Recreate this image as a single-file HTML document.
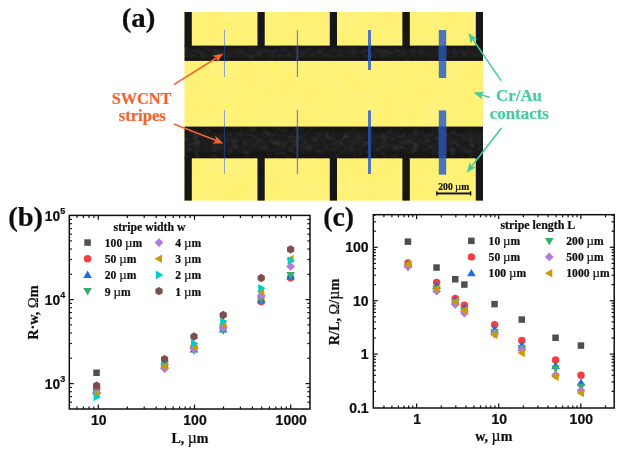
<!DOCTYPE html><html><head><meta charset="utf-8"><style>html,body{margin:0;padding:0;background:#fff;}svg{display:block}text{font-family:"Liberation Serif",serif;font-weight:bold;stroke-width:0.22px;stroke:#111}.o{stroke:#F4642F}.g{stroke:#48CAA0}.s{font-family:"Liberation Sans",sans-serif;font-weight:bold}</style></head><body>
<svg width="631" height="453" viewBox="0 0 631 453">
<defs><filter id="bl" x="-5%" y="-5%" width="110%" height="110%"><feGaussianBlur stdDeviation="0.55"/></filter><filter id="noise" x="0" y="0" width="100%" height="100%"><feTurbulence type="fractalNoise" baseFrequency="0.16 0.22" numOctaves="3" seed="7" result="n"/><feColorMatrix in="n" type="matrix" values="0 0 0 0 1  0 0 0 0 1  0 0 0 0 1  1.6 1.6 0 0 -1.55"/><feComposite in2="SourceGraphic" operator="in"/></filter><filter id="ynoise" x="0" y="0" width="100%" height="100%"><feTurbulence type="fractalNoise" baseFrequency="0.05" numOctaves="2" seed="11" result="n"/><feColorMatrix in="n" type="matrix" values="0 0 0 0 1  0 0 0 0 1  0 0 0 0 0.75  1.2 1.2 0 0 -1.0"/><feComposite in2="SourceGraphic" operator="in"/></filter><linearGradient id="bg1" x1="0" y1="0" x2="0" y2="1"><stop offset="0" stop-color="#101010"/><stop offset="0.3" stop-color="#1f1f1f"/><stop offset="0.7" stop-color="#1f1f1f"/><stop offset="1" stop-color="#101010"/></linearGradient></defs>
<rect width="631" height="453" fill="#fff"/>
<g filter="url(#bl)">
<rect x="184.5" y="12" width="298.5" height="188.6" fill="#FFF172"/>
<rect x="184.5" y="12" width="298.5" height="188.6" fill="#fff" opacity="0.16" filter="url(#ynoise)"/>
<rect x="184.5" y="45.6" width="298.5" height="15.299999999999997" fill="url(#bg1)"/>
<rect x="184.5" y="126.6" width="298.5" height="31.700000000000017" fill="url(#bg1)"/>
<rect x="184.5" y="12" width="7.300000000000011" height="34.6" fill="#131313"/>
<rect x="184.5" y="157.3" width="7.300000000000011" height="43.29999999999998" fill="#131313"/>
<rect x="257.5" y="12" width="7.199999999999989" height="34.6" fill="#131313"/>
<rect x="257.5" y="157.3" width="7.199999999999989" height="43.29999999999998" fill="#131313"/>
<rect x="329.8" y="12" width="7.199999999999989" height="34.6" fill="#131313"/>
<rect x="329.8" y="157.3" width="7.199999999999989" height="43.29999999999998" fill="#131313"/>
<rect x="402.4" y="12" width="7.400000000000034" height="34.6" fill="#131313"/>
<rect x="402.4" y="157.3" width="7.400000000000034" height="43.29999999999998" fill="#131313"/>
<rect x="475.8" y="12" width="7.199999999999989" height="34.6" fill="#131313"/>
<rect x="475.8" y="157.3" width="7.199999999999989" height="43.29999999999998" fill="#131313"/>
<rect x="184.5" y="126.6" width="298.5" height="31.700000000000017" fill="#fff" opacity="0.09" filter="url(#noise)"/>
<rect x="184.5" y="45.6" width="298.5" height="15.299999999999997" fill="#fff" opacity="0.06" filter="url(#noise)"/>
<rect x="224.0" y="30" width="1.0" height="47" fill="#8FA6C8"/>
<rect x="224.0" y="45.6" width="1.0" height="15.299999999999997" fill="#22386A"/>
<rect x="224.0" y="110" width="1.0" height="64" fill="#8FA6C8"/>
<rect x="224.0" y="126.6" width="1.0" height="31.700000000000017" fill="#22386A"/>
<rect x="296.8" y="30" width="1.3" height="47" fill="#6E8FC6"/>
<rect x="296.8" y="45.6" width="1.3" height="15.299999999999997" fill="#24427E"/>
<rect x="296.8" y="110" width="1.3" height="64" fill="#6E8FC6"/>
<rect x="296.8" y="126.6" width="1.3" height="31.700000000000017" fill="#24427E"/>
<rect x="368.0" y="30" width="3.0" height="40" fill="#4F78BE"/>
<rect x="368.0" y="45.6" width="3.0" height="15.299999999999997" fill="#264A96"/>
<rect x="368.0" y="110.4" width="3.0" height="63.599999999999994" fill="#4F78BE"/>
<rect x="368.0" y="126.6" width="3.0" height="31.700000000000017" fill="#264A96"/>
<rect x="438.8" y="30" width="7.4" height="48" fill="#4E76BA"/>
<rect x="438.8" y="45.6" width="7.4" height="15.299999999999997" fill="#26499A"/>
<rect x="438.8" y="110.4" width="7.4" height="64.19999999999999" fill="#4E76BA"/>
<rect x="438.8" y="126.6" width="7.4" height="31.700000000000017" fill="#26499A"/>
<rect x="436.2" y="192.5" width="35" height="1.9" fill="#111"/>
<rect x="436.2" y="191.2" width="1.3" height="4.4" fill="#111"/><rect x="469.9" y="191.2" width="1.3" height="4.4" fill="#111"/>
<text x="453.8" y="189.8" font-size="9.6" text-anchor="middle" fill="#111">200 <tspan font-weight="normal" font-size="1.12em">µ</tspan>m</text>
<text transform="translate(138.5,27.3) scale(1.098,1)" font-size="26.3" text-anchor="middle" fill="#111">(a)</text>
<text x="141.6" y="103.5" font-size="16.3" text-anchor="middle" class="o" fill="#F4642F">SWCNT</text>
<text x="142.2" y="121.4" font-size="16.6" text-anchor="middle" class="o" fill="#F4642F">stripes</text>
<text x="519.0" y="100.8" font-size="16.9" text-anchor="middle" class="g" fill="#48CAA0">Cr/Au</text>
<text x="519.3" y="118.9" font-size="16.9" text-anchor="middle" class="g" fill="#48CAA0">contacts</text>
<line x1="173.8" y1="84.6" x2="216.8" y2="57.8" stroke="#F4642F" stroke-width="1.6"/>
<polygon points="223.5,53.6 216.8,62.6 216.8,57.8 212.4,55.7" fill="#F4642F"/>
<line x1="173.8" y1="124.0" x2="216.2" y2="140.6" stroke="#F4642F" stroke-width="1.6"/>
<polygon points="223.5,143.5 212.2,143.5 216.2,140.6 215.2,135.8" fill="#F4642F"/>
<line x1="501.1" y1="80.6" x2="472.9" y2="39.4" stroke="#48CAA0" stroke-width="1.6"/>
<polygon points="468.5,32.9 477.8,39.3 472.9,39.4 471.0,43.9" fill="#48CAA0"/>
<line x1="489.8" y1="97.5" x2="481.0" y2="94.8" stroke="#48CAA0" stroke-width="1.6"/>
<polygon points="473.5,92.5 484.7,91.7 481.0,94.8 482.3,99.5" fill="#48CAA0"/>
<line x1="501.7" y1="127.7" x2="471.5" y2="166.5" stroke="#48CAA0" stroke-width="1.6"/>
<polygon points="466.7,172.7 469.9,161.9 471.5,166.5 476.4,166.9" fill="#48CAA0"/>
<rect x="69.3" y="215.4" width="240.7" height="193.6" fill="none" stroke="#111" stroke-width="1.5"/>
<line x1="77.0" y1="409.0" x2="77.0" y2="406.4" stroke="#111" stroke-width="1.2"/>
<line x1="77.0" y1="215.4" x2="77.0" y2="218.0" stroke="#111" stroke-width="1.2"/>
<line x1="83.4" y1="409.0" x2="83.4" y2="406.4" stroke="#111" stroke-width="1.2"/>
<line x1="83.4" y1="215.4" x2="83.4" y2="218.0" stroke="#111" stroke-width="1.2"/>
<line x1="89.0" y1="409.0" x2="89.0" y2="406.4" stroke="#111" stroke-width="1.2"/>
<line x1="89.0" y1="215.4" x2="89.0" y2="218.0" stroke="#111" stroke-width="1.2"/>
<line x1="93.9" y1="409.0" x2="93.9" y2="406.4" stroke="#111" stroke-width="1.2"/>
<line x1="93.9" y1="215.4" x2="93.9" y2="218.0" stroke="#111" stroke-width="1.2"/>
<line x1="98.3" y1="409.0" x2="98.3" y2="404.6" stroke="#111" stroke-width="1.2"/>
<line x1="98.3" y1="215.4" x2="98.3" y2="219.8" stroke="#111" stroke-width="1.2"/>
<line x1="127.3" y1="409.0" x2="127.3" y2="406.4" stroke="#111" stroke-width="1.2"/>
<line x1="127.3" y1="215.4" x2="127.3" y2="218.0" stroke="#111" stroke-width="1.2"/>
<line x1="144.2" y1="409.0" x2="144.2" y2="406.4" stroke="#111" stroke-width="1.2"/>
<line x1="144.2" y1="215.4" x2="144.2" y2="218.0" stroke="#111" stroke-width="1.2"/>
<line x1="156.2" y1="409.0" x2="156.2" y2="406.4" stroke="#111" stroke-width="1.2"/>
<line x1="156.2" y1="215.4" x2="156.2" y2="218.0" stroke="#111" stroke-width="1.2"/>
<line x1="165.5" y1="409.0" x2="165.5" y2="406.4" stroke="#111" stroke-width="1.2"/>
<line x1="165.5" y1="215.4" x2="165.5" y2="218.0" stroke="#111" stroke-width="1.2"/>
<line x1="173.2" y1="409.0" x2="173.2" y2="406.4" stroke="#111" stroke-width="1.2"/>
<line x1="173.2" y1="215.4" x2="173.2" y2="218.0" stroke="#111" stroke-width="1.2"/>
<line x1="179.6" y1="409.0" x2="179.6" y2="406.4" stroke="#111" stroke-width="1.2"/>
<line x1="179.6" y1="215.4" x2="179.6" y2="218.0" stroke="#111" stroke-width="1.2"/>
<line x1="185.2" y1="409.0" x2="185.2" y2="406.4" stroke="#111" stroke-width="1.2"/>
<line x1="185.2" y1="215.4" x2="185.2" y2="218.0" stroke="#111" stroke-width="1.2"/>
<line x1="190.1" y1="409.0" x2="190.1" y2="406.4" stroke="#111" stroke-width="1.2"/>
<line x1="190.1" y1="215.4" x2="190.1" y2="218.0" stroke="#111" stroke-width="1.2"/>
<line x1="194.5" y1="409.0" x2="194.5" y2="404.6" stroke="#111" stroke-width="1.2"/>
<line x1="194.5" y1="215.4" x2="194.5" y2="219.8" stroke="#111" stroke-width="1.2"/>
<line x1="223.5" y1="409.0" x2="223.5" y2="406.4" stroke="#111" stroke-width="1.2"/>
<line x1="223.5" y1="215.4" x2="223.5" y2="218.0" stroke="#111" stroke-width="1.2"/>
<line x1="240.4" y1="409.0" x2="240.4" y2="406.4" stroke="#111" stroke-width="1.2"/>
<line x1="240.4" y1="215.4" x2="240.4" y2="218.0" stroke="#111" stroke-width="1.2"/>
<line x1="252.4" y1="409.0" x2="252.4" y2="406.4" stroke="#111" stroke-width="1.2"/>
<line x1="252.4" y1="215.4" x2="252.4" y2="218.0" stroke="#111" stroke-width="1.2"/>
<line x1="261.7" y1="409.0" x2="261.7" y2="406.4" stroke="#111" stroke-width="1.2"/>
<line x1="261.7" y1="215.4" x2="261.7" y2="218.0" stroke="#111" stroke-width="1.2"/>
<line x1="269.4" y1="409.0" x2="269.4" y2="406.4" stroke="#111" stroke-width="1.2"/>
<line x1="269.4" y1="215.4" x2="269.4" y2="218.0" stroke="#111" stroke-width="1.2"/>
<line x1="275.8" y1="409.0" x2="275.8" y2="406.4" stroke="#111" stroke-width="1.2"/>
<line x1="275.8" y1="215.4" x2="275.8" y2="218.0" stroke="#111" stroke-width="1.2"/>
<line x1="281.4" y1="409.0" x2="281.4" y2="406.4" stroke="#111" stroke-width="1.2"/>
<line x1="281.4" y1="215.4" x2="281.4" y2="218.0" stroke="#111" stroke-width="1.2"/>
<line x1="286.3" y1="409.0" x2="286.3" y2="406.4" stroke="#111" stroke-width="1.2"/>
<line x1="286.3" y1="215.4" x2="286.3" y2="218.0" stroke="#111" stroke-width="1.2"/>
<line x1="290.7" y1="409.0" x2="290.7" y2="404.6" stroke="#111" stroke-width="1.2"/>
<line x1="290.7" y1="215.4" x2="290.7" y2="219.8" stroke="#111" stroke-width="1.2"/>
<line x1="69.3" y1="402.2" x2="71.89999999999999" y2="402.2" stroke="#111" stroke-width="1.2"/>
<line x1="310.0" y1="402.2" x2="307.4" y2="402.2" stroke="#111" stroke-width="1.2"/>
<line x1="69.3" y1="396.6" x2="71.89999999999999" y2="396.6" stroke="#111" stroke-width="1.2"/>
<line x1="310.0" y1="396.6" x2="307.4" y2="396.6" stroke="#111" stroke-width="1.2"/>
<line x1="69.3" y1="391.7" x2="71.89999999999999" y2="391.7" stroke="#111" stroke-width="1.2"/>
<line x1="310.0" y1="391.7" x2="307.4" y2="391.7" stroke="#111" stroke-width="1.2"/>
<line x1="69.3" y1="387.4" x2="71.89999999999999" y2="387.4" stroke="#111" stroke-width="1.2"/>
<line x1="310.0" y1="387.4" x2="307.4" y2="387.4" stroke="#111" stroke-width="1.2"/>
<line x1="69.3" y1="383.6" x2="73.7" y2="383.6" stroke="#111" stroke-width="1.2"/>
<line x1="310.0" y1="383.6" x2="305.6" y2="383.6" stroke="#111" stroke-width="1.2"/>
<line x1="69.3" y1="358.3" x2="71.89999999999999" y2="358.3" stroke="#111" stroke-width="1.2"/>
<line x1="310.0" y1="358.3" x2="307.4" y2="358.3" stroke="#111" stroke-width="1.2"/>
<line x1="69.3" y1="343.5" x2="71.89999999999999" y2="343.5" stroke="#111" stroke-width="1.2"/>
<line x1="310.0" y1="343.5" x2="307.4" y2="343.5" stroke="#111" stroke-width="1.2"/>
<line x1="69.3" y1="333.0" x2="71.89999999999999" y2="333.0" stroke="#111" stroke-width="1.2"/>
<line x1="310.0" y1="333.0" x2="307.4" y2="333.0" stroke="#111" stroke-width="1.2"/>
<line x1="69.3" y1="324.9" x2="71.89999999999999" y2="324.9" stroke="#111" stroke-width="1.2"/>
<line x1="310.0" y1="324.9" x2="307.4" y2="324.9" stroke="#111" stroke-width="1.2"/>
<line x1="69.3" y1="318.2" x2="71.89999999999999" y2="318.2" stroke="#111" stroke-width="1.2"/>
<line x1="310.0" y1="318.2" x2="307.4" y2="318.2" stroke="#111" stroke-width="1.2"/>
<line x1="69.3" y1="312.6" x2="71.89999999999999" y2="312.6" stroke="#111" stroke-width="1.2"/>
<line x1="310.0" y1="312.6" x2="307.4" y2="312.6" stroke="#111" stroke-width="1.2"/>
<line x1="69.3" y1="307.7" x2="71.89999999999999" y2="307.7" stroke="#111" stroke-width="1.2"/>
<line x1="310.0" y1="307.7" x2="307.4" y2="307.7" stroke="#111" stroke-width="1.2"/>
<line x1="69.3" y1="303.4" x2="71.89999999999999" y2="303.4" stroke="#111" stroke-width="1.2"/>
<line x1="310.0" y1="303.4" x2="307.4" y2="303.4" stroke="#111" stroke-width="1.2"/>
<line x1="69.3" y1="299.6" x2="73.7" y2="299.6" stroke="#111" stroke-width="1.2"/>
<line x1="310.0" y1="299.6" x2="305.6" y2="299.6" stroke="#111" stroke-width="1.2"/>
<line x1="69.3" y1="274.3" x2="71.89999999999999" y2="274.3" stroke="#111" stroke-width="1.2"/>
<line x1="310.0" y1="274.3" x2="307.4" y2="274.3" stroke="#111" stroke-width="1.2"/>
<line x1="69.3" y1="259.5" x2="71.89999999999999" y2="259.5" stroke="#111" stroke-width="1.2"/>
<line x1="310.0" y1="259.5" x2="307.4" y2="259.5" stroke="#111" stroke-width="1.2"/>
<line x1="69.3" y1="249.0" x2="71.89999999999999" y2="249.0" stroke="#111" stroke-width="1.2"/>
<line x1="310.0" y1="249.0" x2="307.4" y2="249.0" stroke="#111" stroke-width="1.2"/>
<line x1="69.3" y1="240.9" x2="71.89999999999999" y2="240.9" stroke="#111" stroke-width="1.2"/>
<line x1="310.0" y1="240.9" x2="307.4" y2="240.9" stroke="#111" stroke-width="1.2"/>
<line x1="69.3" y1="234.2" x2="71.89999999999999" y2="234.2" stroke="#111" stroke-width="1.2"/>
<line x1="310.0" y1="234.2" x2="307.4" y2="234.2" stroke="#111" stroke-width="1.2"/>
<line x1="69.3" y1="228.6" x2="71.89999999999999" y2="228.6" stroke="#111" stroke-width="1.2"/>
<line x1="310.0" y1="228.6" x2="307.4" y2="228.6" stroke="#111" stroke-width="1.2"/>
<line x1="69.3" y1="223.7" x2="71.89999999999999" y2="223.7" stroke="#111" stroke-width="1.2"/>
<line x1="310.0" y1="223.7" x2="307.4" y2="223.7" stroke="#111" stroke-width="1.2"/>
<line x1="69.3" y1="219.4" x2="71.89999999999999" y2="219.4" stroke="#111" stroke-width="1.2"/>
<line x1="310.0" y1="219.4" x2="307.4" y2="219.4" stroke="#111" stroke-width="1.2"/>
<text class="s" x="98.8" y="424.8" font-size="14" text-anchor="middle" fill="#111">10</text>
<text class="s" x="195.0" y="424.8" font-size="14" text-anchor="middle" fill="#111">100</text>
<text class="s" x="291.2" y="424.8" font-size="14" text-anchor="middle" fill="#111">1000</text>
<text class="s" x="60.2" y="388.7" font-size="13.8" text-anchor="end" fill="#111">10</text>
<text class="s" x="60.3" y="382.3" font-size="9" fill="#111">3</text>
<text class="s" x="60.2" y="304.7" font-size="13.8" text-anchor="end" fill="#111">10</text>
<text class="s" x="60.3" y="298.3" font-size="9" fill="#111">4</text>
<text class="s" x="60.2" y="220.7" font-size="13.8" text-anchor="end" fill="#111">10</text>
<text class="s" x="60.3" y="214.3" font-size="9" fill="#111">5</text>
<text x="190" y="443" font-size="14" text-anchor="middle" fill="#111">L, <tspan font-weight="normal" font-size="1.12em">µ</tspan>m</text>
<text transform="translate(37.5,312.6) rotate(-90)" font-size="14.3" text-anchor="middle" fill="#111">R·w, <tspan font-weight="normal">Ω</tspan>m</text>
<text transform="translate(25.65,226.1) scale(1.087,1)" font-size="26.3" text-anchor="middle" fill="#111">(b)</text>
<text x="113.6" y="230.8" font-size="11.75" fill="#111">stripe width w</text>
<rect x="84.3" y="239.3" width="6.5" height="6.5" fill="#505050"/>
<text x="104.8" y="247.1" font-size="11.6" fill="#111">100 <tspan font-weight="normal" font-size="1.12em">µ</tspan>m</text>
<circle cx="87.6" cy="258.8" r="3.72" fill="#F04040"/>
<text x="104.8" y="263.3" font-size="11.6" fill="#111">50 <tspan font-weight="normal" font-size="1.12em">µ</tspan>m</text>
<polygon points="87.6,270.5 91.9,277.9 83.3,277.9" fill="#1C6EE0"/>
<text x="104.8" y="279.4" font-size="11.6" fill="#111">20 <tspan font-weight="normal" font-size="1.12em">µ</tspan>m</text>
<polygon points="87.6,295.5 91.9,288.1 83.3,288.1" fill="#36AE6C"/>
<text x="104.8" y="295.6" font-size="11.6" fill="#111">9 <tspan font-weight="normal" font-size="1.12em">µ</tspan>m</text>
<polygon points="159.0,238.2 163.4,242.6 159.0,247.0 154.6,242.6" fill="#B47AE0"/>
<text x="175.3" y="247.1" font-size="11.6" fill="#111">4 <tspan font-weight="normal" font-size="1.12em">µ</tspan>m</text>
<polygon points="154.6,258.8 162.0,254.5 162.0,263.1" fill="#CE9A00"/>
<text x="175.3" y="263.3" font-size="11.6" fill="#111">3 <tspan font-weight="normal" font-size="1.12em">µ</tspan>m</text>
<polygon points="163.4,274.9 156.0,270.6 156.0,279.2" fill="#00CCCC"/>
<text x="175.3" y="279.4" font-size="11.6" fill="#111">2 <tspan font-weight="normal" font-size="1.12em">µ</tspan>m</text>
<polygon points="159.0,286.9 162.6,289.0 162.6,293.2 159.0,295.3 155.4,293.2 155.4,289.0" fill="#7E4E4E"/>
<text x="175.3" y="295.6" font-size="11.6" fill="#111">1 <tspan font-weight="normal" font-size="1.12em">µ</tspan>m</text>
<rect x="93.3" y="369.5" width="6.5" height="6.5" fill="#505050"/>
<circle cx="96.6" cy="388.5" r="3.72" fill="#F04040"/>
<polygon points="96.6,385.6 100.9,393.0 92.3,393.0" fill="#1C6EE0"/>
<polygon points="96.6,396.4 100.9,389.0 92.3,389.0" fill="#36AE6C"/>
<polygon points="96.6,389.1 101.0,393.5 96.6,397.9 92.2,393.5" fill="#B47AE0"/>
<polygon points="92.2,394.0 99.6,389.7 99.6,398.3" fill="#CE9A00"/>
<polygon points="101.0,397.0 93.6,392.7 93.6,401.3" fill="#00CCCC"/>
<polygon points="96.6,381.4 100.2,383.5 100.2,387.7 96.6,389.8 93.0,387.7 93.0,383.5" fill="#7E4E4E"/>
<circle cx="164.6" cy="365.0" r="3.72" fill="#F04040"/>
<polygon points="164.6,361.1 168.9,368.5 160.3,368.5" fill="#1C6EE0"/>
<polygon points="164.6,370.9 168.9,363.5 160.3,363.5" fill="#36AE6C"/>
<polygon points="164.6,364.1 169.0,368.5 164.6,372.9 160.2,368.5" fill="#B47AE0"/>
<polygon points="160.2,366.2 167.6,361.9 167.6,370.5" fill="#CE9A00"/>
<polygon points="169.0,361.5 161.6,357.2 161.6,365.8" fill="#00CCCC"/>
<polygon points="164.6,354.9 168.2,357.0 168.2,361.2 164.6,363.3 161.0,361.2 161.0,357.0" fill="#7E4E4E"/>
<circle cx="194.0" cy="347.0" r="3.72" fill="#F04040"/>
<polygon points="194.0,345.1 198.3,352.5 189.7,352.5" fill="#1C6EE0"/>
<polygon points="194.0,354.9 198.3,347.5 189.7,347.5" fill="#36AE6C"/>
<polygon points="194.0,344.4 198.4,348.8 194.0,353.2 189.6,348.8" fill="#B47AE0"/>
<polygon points="189.6,346.2 197.0,341.9 197.0,350.5" fill="#CE9A00"/>
<polygon points="198.4,343.4 191.0,339.1 191.0,347.7" fill="#00CCCC"/>
<polygon points="194.0,332.3 197.6,334.4 197.6,338.6 194.0,340.7 190.4,338.6 190.4,334.4" fill="#7E4E4E"/>
<circle cx="223.2" cy="327.0" r="3.72" fill="#F04040"/>
<polygon points="223.2,325.1 227.5,332.5 218.9,332.5" fill="#1C6EE0"/>
<polygon points="223.2,335.0 227.5,327.6 218.9,327.6" fill="#36AE6C"/>
<polygon points="223.2,323.1 227.6,327.5 223.2,331.9 218.8,327.5" fill="#B47AE0"/>
<polygon points="218.8,324.0 226.2,319.7 226.2,328.3" fill="#CE9A00"/>
<polygon points="227.6,321.3 220.2,317.0 220.2,325.6" fill="#00CCCC"/>
<polygon points="223.2,310.8 226.8,312.9 226.8,317.1 223.2,319.2 219.6,317.1 219.6,312.9" fill="#7E4E4E"/>
<circle cx="261.2" cy="301.6" r="3.72" fill="#F04040"/>
<polygon points="261.2,295.9 265.5,303.3 256.9,303.3" fill="#1C6EE0"/>
<polygon points="261.2,303.9 265.5,296.5 256.9,296.5" fill="#36AE6C"/>
<polygon points="261.2,291.0 265.6,295.4 261.2,299.8 256.8,295.4" fill="#B47AE0"/>
<polygon points="256.8,291.5 264.2,287.2 264.2,295.8" fill="#CE9A00"/>
<polygon points="265.6,288.2 258.2,283.9 258.2,292.5" fill="#00CCCC"/>
<polygon points="261.2,273.8 264.8,275.9 264.8,280.1 261.2,282.2 257.6,280.1 257.6,275.9" fill="#7E4E4E"/>
<circle cx="290.6" cy="277.8" r="3.72" fill="#F04040"/>
<polygon points="290.6,272.0 294.9,279.4 286.3,279.4" fill="#1C6EE0"/>
<polygon points="290.6,279.3 294.9,271.9 286.3,271.9" fill="#36AE6C"/>
<polygon points="290.6,262.0 295.0,266.4 290.6,270.8 286.2,266.4" fill="#B47AE0"/>
<polygon points="286.2,259.0 293.6,254.7 293.6,263.3" fill="#CE9A00"/>
<polygon points="295.0,260.5 287.6,256.2 287.6,264.8" fill="#00CCCC"/>
<polygon points="290.6,245.2 294.2,247.3 294.2,251.5 290.6,253.6 287.0,251.5 287.0,247.3" fill="#7E4E4E"/>
<rect x="373.3" y="214.7" width="240.90000000000003" height="193.3" fill="none" stroke="#111" stroke-width="1.5"/>
<line x1="383.9" y1="408.0" x2="383.9" y2="405.4" stroke="#111" stroke-width="1.2"/>
<line x1="383.9" y1="214.7" x2="383.9" y2="217.29999999999998" stroke="#111" stroke-width="1.2"/>
<line x1="391.9" y1="408.0" x2="391.9" y2="405.4" stroke="#111" stroke-width="1.2"/>
<line x1="391.9" y1="214.7" x2="391.9" y2="217.29999999999998" stroke="#111" stroke-width="1.2"/>
<line x1="398.4" y1="408.0" x2="398.4" y2="405.4" stroke="#111" stroke-width="1.2"/>
<line x1="398.4" y1="214.7" x2="398.4" y2="217.29999999999998" stroke="#111" stroke-width="1.2"/>
<line x1="403.9" y1="408.0" x2="403.9" y2="405.4" stroke="#111" stroke-width="1.2"/>
<line x1="403.9" y1="214.7" x2="403.9" y2="217.29999999999998" stroke="#111" stroke-width="1.2"/>
<line x1="408.6" y1="408.0" x2="408.6" y2="405.4" stroke="#111" stroke-width="1.2"/>
<line x1="408.6" y1="214.7" x2="408.6" y2="217.29999999999998" stroke="#111" stroke-width="1.2"/>
<line x1="412.8" y1="408.0" x2="412.8" y2="405.4" stroke="#111" stroke-width="1.2"/>
<line x1="412.8" y1="214.7" x2="412.8" y2="217.29999999999998" stroke="#111" stroke-width="1.2"/>
<line x1="416.6" y1="408.0" x2="416.6" y2="403.6" stroke="#111" stroke-width="1.2"/>
<line x1="416.6" y1="214.7" x2="416.6" y2="219.1" stroke="#111" stroke-width="1.2"/>
<line x1="441.3" y1="408.0" x2="441.3" y2="405.4" stroke="#111" stroke-width="1.2"/>
<line x1="441.3" y1="214.7" x2="441.3" y2="217.29999999999998" stroke="#111" stroke-width="1.2"/>
<line x1="455.8" y1="408.0" x2="455.8" y2="405.4" stroke="#111" stroke-width="1.2"/>
<line x1="455.8" y1="214.7" x2="455.8" y2="217.29999999999998" stroke="#111" stroke-width="1.2"/>
<line x1="466.0" y1="408.0" x2="466.0" y2="405.4" stroke="#111" stroke-width="1.2"/>
<line x1="466.0" y1="214.7" x2="466.0" y2="217.29999999999998" stroke="#111" stroke-width="1.2"/>
<line x1="474.0" y1="408.0" x2="474.0" y2="405.4" stroke="#111" stroke-width="1.2"/>
<line x1="474.0" y1="214.7" x2="474.0" y2="217.29999999999998" stroke="#111" stroke-width="1.2"/>
<line x1="480.5" y1="408.0" x2="480.5" y2="405.4" stroke="#111" stroke-width="1.2"/>
<line x1="480.5" y1="214.7" x2="480.5" y2="217.29999999999998" stroke="#111" stroke-width="1.2"/>
<line x1="486.0" y1="408.0" x2="486.0" y2="405.4" stroke="#111" stroke-width="1.2"/>
<line x1="486.0" y1="214.7" x2="486.0" y2="217.29999999999998" stroke="#111" stroke-width="1.2"/>
<line x1="490.7" y1="408.0" x2="490.7" y2="405.4" stroke="#111" stroke-width="1.2"/>
<line x1="490.7" y1="214.7" x2="490.7" y2="217.29999999999998" stroke="#111" stroke-width="1.2"/>
<line x1="494.9" y1="408.0" x2="494.9" y2="405.4" stroke="#111" stroke-width="1.2"/>
<line x1="494.9" y1="214.7" x2="494.9" y2="217.29999999999998" stroke="#111" stroke-width="1.2"/>
<line x1="498.7" y1="408.0" x2="498.7" y2="403.6" stroke="#111" stroke-width="1.2"/>
<line x1="498.7" y1="214.7" x2="498.7" y2="219.1" stroke="#111" stroke-width="1.2"/>
<line x1="523.4" y1="408.0" x2="523.4" y2="405.4" stroke="#111" stroke-width="1.2"/>
<line x1="523.4" y1="214.7" x2="523.4" y2="217.29999999999998" stroke="#111" stroke-width="1.2"/>
<line x1="537.9" y1="408.0" x2="537.9" y2="405.4" stroke="#111" stroke-width="1.2"/>
<line x1="537.9" y1="214.7" x2="537.9" y2="217.29999999999998" stroke="#111" stroke-width="1.2"/>
<line x1="548.1" y1="408.0" x2="548.1" y2="405.4" stroke="#111" stroke-width="1.2"/>
<line x1="548.1" y1="214.7" x2="548.1" y2="217.29999999999998" stroke="#111" stroke-width="1.2"/>
<line x1="556.1" y1="408.0" x2="556.1" y2="405.4" stroke="#111" stroke-width="1.2"/>
<line x1="556.1" y1="214.7" x2="556.1" y2="217.29999999999998" stroke="#111" stroke-width="1.2"/>
<line x1="562.6" y1="408.0" x2="562.6" y2="405.4" stroke="#111" stroke-width="1.2"/>
<line x1="562.6" y1="214.7" x2="562.6" y2="217.29999999999998" stroke="#111" stroke-width="1.2"/>
<line x1="568.1" y1="408.0" x2="568.1" y2="405.4" stroke="#111" stroke-width="1.2"/>
<line x1="568.1" y1="214.7" x2="568.1" y2="217.29999999999998" stroke="#111" stroke-width="1.2"/>
<line x1="572.8" y1="408.0" x2="572.8" y2="405.4" stroke="#111" stroke-width="1.2"/>
<line x1="572.8" y1="214.7" x2="572.8" y2="217.29999999999998" stroke="#111" stroke-width="1.2"/>
<line x1="577.0" y1="408.0" x2="577.0" y2="405.4" stroke="#111" stroke-width="1.2"/>
<line x1="577.0" y1="214.7" x2="577.0" y2="217.29999999999998" stroke="#111" stroke-width="1.2"/>
<line x1="580.8" y1="408.0" x2="580.8" y2="403.6" stroke="#111" stroke-width="1.2"/>
<line x1="580.8" y1="214.7" x2="580.8" y2="219.1" stroke="#111" stroke-width="1.2"/>
<line x1="605.5" y1="408.0" x2="605.5" y2="405.4" stroke="#111" stroke-width="1.2"/>
<line x1="605.5" y1="214.7" x2="605.5" y2="217.29999999999998" stroke="#111" stroke-width="1.2"/>
<line x1="373.3" y1="391.4" x2="375.90000000000003" y2="391.4" stroke="#111" stroke-width="1.2"/>
<line x1="614.2" y1="391.4" x2="611.6" y2="391.4" stroke="#111" stroke-width="1.2"/>
<line x1="373.3" y1="382.0" x2="375.90000000000003" y2="382.0" stroke="#111" stroke-width="1.2"/>
<line x1="614.2" y1="382.0" x2="611.6" y2="382.0" stroke="#111" stroke-width="1.2"/>
<line x1="373.3" y1="375.3" x2="375.90000000000003" y2="375.3" stroke="#111" stroke-width="1.2"/>
<line x1="614.2" y1="375.3" x2="611.6" y2="375.3" stroke="#111" stroke-width="1.2"/>
<line x1="373.3" y1="370.2" x2="375.90000000000003" y2="370.2" stroke="#111" stroke-width="1.2"/>
<line x1="614.2" y1="370.2" x2="611.6" y2="370.2" stroke="#111" stroke-width="1.2"/>
<line x1="373.3" y1="365.9" x2="375.90000000000003" y2="365.9" stroke="#111" stroke-width="1.2"/>
<line x1="614.2" y1="365.9" x2="611.6" y2="365.9" stroke="#111" stroke-width="1.2"/>
<line x1="373.3" y1="362.4" x2="375.90000000000003" y2="362.4" stroke="#111" stroke-width="1.2"/>
<line x1="614.2" y1="362.4" x2="611.6" y2="362.4" stroke="#111" stroke-width="1.2"/>
<line x1="373.3" y1="359.3" x2="375.90000000000003" y2="359.3" stroke="#111" stroke-width="1.2"/>
<line x1="614.2" y1="359.3" x2="611.6" y2="359.3" stroke="#111" stroke-width="1.2"/>
<line x1="373.3" y1="356.5" x2="375.90000000000003" y2="356.5" stroke="#111" stroke-width="1.2"/>
<line x1="614.2" y1="356.5" x2="611.6" y2="356.5" stroke="#111" stroke-width="1.2"/>
<line x1="373.3" y1="354.1" x2="377.7" y2="354.1" stroke="#111" stroke-width="1.2"/>
<line x1="614.2" y1="354.1" x2="609.8000000000001" y2="354.1" stroke="#111" stroke-width="1.2"/>
<line x1="373.3" y1="338.0" x2="375.90000000000003" y2="338.0" stroke="#111" stroke-width="1.2"/>
<line x1="614.2" y1="338.0" x2="611.6" y2="338.0" stroke="#111" stroke-width="1.2"/>
<line x1="373.3" y1="328.6" x2="375.90000000000003" y2="328.6" stroke="#111" stroke-width="1.2"/>
<line x1="614.2" y1="328.6" x2="611.6" y2="328.6" stroke="#111" stroke-width="1.2"/>
<line x1="373.3" y1="321.9" x2="375.90000000000003" y2="321.9" stroke="#111" stroke-width="1.2"/>
<line x1="614.2" y1="321.9" x2="611.6" y2="321.9" stroke="#111" stroke-width="1.2"/>
<line x1="373.3" y1="316.8" x2="375.90000000000003" y2="316.8" stroke="#111" stroke-width="1.2"/>
<line x1="614.2" y1="316.8" x2="611.6" y2="316.8" stroke="#111" stroke-width="1.2"/>
<line x1="373.3" y1="312.5" x2="375.90000000000003" y2="312.5" stroke="#111" stroke-width="1.2"/>
<line x1="614.2" y1="312.5" x2="611.6" y2="312.5" stroke="#111" stroke-width="1.2"/>
<line x1="373.3" y1="309.0" x2="375.90000000000003" y2="309.0" stroke="#111" stroke-width="1.2"/>
<line x1="614.2" y1="309.0" x2="611.6" y2="309.0" stroke="#111" stroke-width="1.2"/>
<line x1="373.3" y1="305.9" x2="375.90000000000003" y2="305.9" stroke="#111" stroke-width="1.2"/>
<line x1="614.2" y1="305.9" x2="611.6" y2="305.9" stroke="#111" stroke-width="1.2"/>
<line x1="373.3" y1="303.1" x2="375.90000000000003" y2="303.1" stroke="#111" stroke-width="1.2"/>
<line x1="614.2" y1="303.1" x2="611.6" y2="303.1" stroke="#111" stroke-width="1.2"/>
<line x1="373.3" y1="300.7" x2="377.7" y2="300.7" stroke="#111" stroke-width="1.2"/>
<line x1="614.2" y1="300.7" x2="609.8000000000001" y2="300.7" stroke="#111" stroke-width="1.2"/>
<line x1="373.3" y1="284.6" x2="375.90000000000003" y2="284.6" stroke="#111" stroke-width="1.2"/>
<line x1="614.2" y1="284.6" x2="611.6" y2="284.6" stroke="#111" stroke-width="1.2"/>
<line x1="373.3" y1="275.2" x2="375.90000000000003" y2="275.2" stroke="#111" stroke-width="1.2"/>
<line x1="614.2" y1="275.2" x2="611.6" y2="275.2" stroke="#111" stroke-width="1.2"/>
<line x1="373.3" y1="268.5" x2="375.90000000000003" y2="268.5" stroke="#111" stroke-width="1.2"/>
<line x1="614.2" y1="268.5" x2="611.6" y2="268.5" stroke="#111" stroke-width="1.2"/>
<line x1="373.3" y1="263.4" x2="375.90000000000003" y2="263.4" stroke="#111" stroke-width="1.2"/>
<line x1="614.2" y1="263.4" x2="611.6" y2="263.4" stroke="#111" stroke-width="1.2"/>
<line x1="373.3" y1="259.1" x2="375.90000000000003" y2="259.1" stroke="#111" stroke-width="1.2"/>
<line x1="614.2" y1="259.1" x2="611.6" y2="259.1" stroke="#111" stroke-width="1.2"/>
<line x1="373.3" y1="255.6" x2="375.90000000000003" y2="255.6" stroke="#111" stroke-width="1.2"/>
<line x1="614.2" y1="255.6" x2="611.6" y2="255.6" stroke="#111" stroke-width="1.2"/>
<line x1="373.3" y1="252.5" x2="375.90000000000003" y2="252.5" stroke="#111" stroke-width="1.2"/>
<line x1="614.2" y1="252.5" x2="611.6" y2="252.5" stroke="#111" stroke-width="1.2"/>
<line x1="373.3" y1="249.7" x2="375.90000000000003" y2="249.7" stroke="#111" stroke-width="1.2"/>
<line x1="614.2" y1="249.7" x2="611.6" y2="249.7" stroke="#111" stroke-width="1.2"/>
<line x1="373.3" y1="247.3" x2="377.7" y2="247.3" stroke="#111" stroke-width="1.2"/>
<line x1="614.2" y1="247.3" x2="609.8000000000001" y2="247.3" stroke="#111" stroke-width="1.2"/>
<line x1="373.3" y1="231.2" x2="375.90000000000003" y2="231.2" stroke="#111" stroke-width="1.2"/>
<line x1="614.2" y1="231.2" x2="611.6" y2="231.2" stroke="#111" stroke-width="1.2"/>
<line x1="373.3" y1="221.8" x2="375.90000000000003" y2="221.8" stroke="#111" stroke-width="1.2"/>
<line x1="614.2" y1="221.8" x2="611.6" y2="221.8" stroke="#111" stroke-width="1.2"/>
<line x1="373.3" y1="215.1" x2="375.90000000000003" y2="215.1" stroke="#111" stroke-width="1.2"/>
<line x1="614.2" y1="215.1" x2="611.6" y2="215.1" stroke="#111" stroke-width="1.2"/>
<text class="s" x="417.1" y="424.1" font-size="14" text-anchor="middle" fill="#111">1</text>
<text class="s" x="499.2" y="424.1" font-size="14" text-anchor="middle" fill="#111">10</text>
<text class="s" x="581.3" y="424.1" font-size="14" text-anchor="middle" fill="#111">100</text>
<text class="s" x="368.6" y="412.5" font-size="14" text-anchor="end" fill="#111">0.1</text>
<text class="s" x="368.6" y="359.1" font-size="14" text-anchor="end" fill="#111">1</text>
<text class="s" x="368.6" y="305.7" font-size="14" text-anchor="end" fill="#111">10</text>
<text class="s" x="368.6" y="252.3" font-size="14" text-anchor="end" fill="#111">100</text>
<text x="493.8" y="440.5" font-size="14" text-anchor="middle" fill="#111">w, <tspan font-weight="normal" font-size="1.12em">µ</tspan>m</text>
<text transform="translate(338.9,312) rotate(-90)" font-size="14.3" text-anchor="middle" fill="#111">R/L, <tspan font-weight="normal">Ω</tspan>/<tspan font-weight="normal" font-size="1.12em">µ</tspan>m</text>
<text transform="translate(338.6,226) scale(1.06,1)" font-size="26.3" text-anchor="middle" fill="#111">(c)</text>
<text x="500.4" y="228.8" font-size="11.95" fill="#111">stripe length L</text>
<rect x="468.1" y="237.6" width="6.5" height="6.5" fill="#505050"/>
<text x="488.6" y="244.5" font-size="11.6" fill="#111">10 <tspan font-weight="normal" font-size="1.12em">µ</tspan>m</text>
<circle cx="471.4" cy="256.9" r="3.72" fill="#F04040"/>
<text x="488.6" y="260.5" font-size="11.6" fill="#111">50 <tspan font-weight="normal" font-size="1.12em">µ</tspan>m</text>
<polygon points="471.4,268.9 475.7,276.3 467.1,276.3" fill="#1C6EE0"/>
<text x="488.6" y="276.9" font-size="11.6" fill="#111">100 <tspan font-weight="normal" font-size="1.12em">µ</tspan>m</text>
<polygon points="549.3,245.3 553.6,237.9 545.0,237.9" fill="#36AE6C"/>
<text x="566.3" y="244.5" font-size="11.6" fill="#111">200 <tspan font-weight="normal" font-size="1.12em">µ</tspan>m</text>
<polygon points="549.3,252.5 553.7,256.9 549.3,261.3 544.9,256.9" fill="#B47AE0"/>
<text x="566.3" y="260.5" font-size="11.6" fill="#111">500 <tspan font-weight="normal" font-size="1.12em">µ</tspan>m</text>
<polygon points="544.9,273.3 552.3,269.0 552.3,277.6" fill="#CE9A00"/>
<text x="566.3" y="276.9" font-size="11.6" fill="#111">1000 <tspan font-weight="normal" font-size="1.12em">µ</tspan>m</text>
<rect x="404.7" y="238.4" width="6.5" height="6.5" fill="#505050"/>
<circle cx="408.0" cy="262.9" r="3.72" fill="#F04040"/>
<polygon points="408.0,260.1 412.3,267.5 403.7,267.5" fill="#1C6EE0"/>
<polygon points="408.0,271.4 412.3,264.0 403.7,264.0" fill="#36AE6C"/>
<polygon points="408.0,262.1 412.4,266.5 408.0,270.9 403.6,266.5" fill="#B47AE0"/>
<polygon points="403.6,264.0 411.0,259.7 411.0,268.3" fill="#CE9A00"/>
<rect x="433.3" y="264.3" width="6.5" height="6.5" fill="#505050"/>
<circle cx="436.6" cy="282.4" r="3.72" fill="#F04040"/>
<polygon points="436.6,281.6 440.9,289.0 432.3,289.0" fill="#1C6EE0"/>
<polygon points="436.6,293.4 440.9,286.0 432.3,286.0" fill="#36AE6C"/>
<polygon points="436.6,286.8 441.0,291.2 436.6,295.6 432.2,291.2" fill="#B47AE0"/>
<polygon points="432.2,289.0 439.6,284.7 439.6,293.3" fill="#CE9A00"/>
<rect x="452.0" y="276.0" width="6.5" height="6.5" fill="#505050"/>
<circle cx="455.3" cy="298.5" r="3.72" fill="#F04040"/>
<polygon points="455.3,296.1 459.6,303.5 451.0,303.5" fill="#1C6EE0"/>
<polygon points="455.3,306.4 459.6,299.0 451.0,299.0" fill="#36AE6C"/>
<polygon points="455.3,300.2 459.7,304.6 455.3,309.0 450.9,304.6" fill="#B47AE0"/>
<polygon points="450.9,301.8 458.3,297.5 458.3,306.1" fill="#CE9A00"/>
<rect x="461.1" y="281.3" width="6.5" height="6.5" fill="#505050"/>
<circle cx="464.4" cy="305.2" r="3.72" fill="#F04040"/>
<polygon points="464.4,304.1 468.7,311.5 460.1,311.5" fill="#1C6EE0"/>
<polygon points="464.4,314.9 468.7,307.5 460.1,307.5" fill="#36AE6C"/>
<polygon points="464.4,308.8 468.8,313.2 464.4,317.6 460.0,313.2" fill="#B47AE0"/>
<polygon points="460.0,310.6 467.4,306.3 467.4,314.9" fill="#CE9A00"/>
<rect x="491.3" y="300.9" width="6.5" height="6.5" fill="#505050"/>
<circle cx="494.6" cy="324.7" r="3.72" fill="#F04040"/>
<polygon points="494.6,325.3 498.9,332.7 490.3,332.7" fill="#1C6EE0"/>
<polygon points="494.6,336.4 498.9,329.0 490.3,329.0" fill="#36AE6C"/>
<polygon points="494.6,329.6 499.0,334.0 494.6,338.4 490.2,334.0" fill="#B47AE0"/>
<polygon points="490.2,334.8 497.6,330.5 497.6,339.1" fill="#CE9A00"/>
<rect x="518.5" y="316.3" width="6.5" height="6.5" fill="#505050"/>
<circle cx="521.8" cy="340.5" r="3.72" fill="#F04040"/>
<polygon points="521.8,341.2 526.1,348.6 517.5,348.6" fill="#1C6EE0"/>
<polygon points="521.8,352.4 526.1,345.0 517.5,345.0" fill="#36AE6C"/>
<polygon points="521.8,345.6 526.2,350.0 521.8,354.4 517.4,350.0" fill="#B47AE0"/>
<polygon points="517.4,353.0 524.8,348.7 524.8,357.3" fill="#CE9A00"/>
<rect x="552.3" y="334.5" width="6.5" height="6.5" fill="#505050"/>
<circle cx="555.6" cy="360.0" r="3.72" fill="#F04040"/>
<polygon points="555.6,361.6 559.9,369.0 551.3,369.0" fill="#1C6EE0"/>
<polygon points="555.6,373.0 559.9,365.6 551.3,365.6" fill="#36AE6C"/>
<polygon points="555.6,370.6 560.0,375.0 555.6,379.4 551.2,375.0" fill="#B47AE0"/>
<polygon points="551.2,376.7 558.6,372.4 558.6,381.0" fill="#CE9A00"/>
<rect x="577.7" y="342.3" width="6.5" height="6.5" fill="#505050"/>
<circle cx="581.0" cy="375.3" r="3.72" fill="#F04040"/>
<polygon points="581.0,378.4 585.3,385.8 576.7,385.8" fill="#1C6EE0"/>
<polygon points="581.0,391.2 585.3,383.8 576.7,383.8" fill="#36AE6C"/>
<polygon points="581.0,386.1 585.4,390.5 581.0,394.9 576.6,390.5" fill="#B47AE0"/>
<polygon points="576.6,393.0 584.0,388.7 584.0,397.3" fill="#CE9A00"/>
</g></svg></body></html>
